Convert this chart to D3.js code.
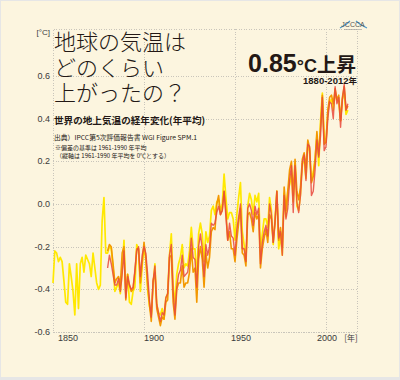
<!DOCTYPE html>
<html><head><meta charset="utf-8">
<script src="https://cdn.jsdelivr.net/npm/d3@7"></script>
<style>
html,body{margin:0;padding:0;background:#e6e6e6;}
svg{display:block;}
</style></head>
<body>
<svg id="c" width="400" height="380"></svg>
<script>
// ---- data (anomaly vs 1961-1990 mean, °C) ----
const yearsHad = d3.range(1850, 2013);
const hadcrut = [
-0.37,-0.22,-0.23,-0.27,-0.25,-0.27,-0.36,-0.46,-0.47,-0.28,
-0.34,-0.41,-0.52,-0.28,-0.49,-0.28,-0.25,-0.32,-0.24,-0.26,
-0.28,-0.34,-0.23,-0.30,-0.37,-0.40,-0.38,-0.08,0.03,-0.23,
-0.23,-0.20,-0.21,-0.30,-0.41,-0.39,-0.37,-0.42,-0.31,-0.17,
-0.42,-0.33,-0.46,-0.47,-0.41,-0.39,-0.19,-0.21,-0.41,-0.29,
-0.20,-0.26,-0.40,-0.48,-0.52,-0.38,-0.28,-0.47,-0.51,-0.52,
-0.49,-0.54,-0.44,-0.42,-0.24,-0.14,-0.38,-0.47,-0.33,-0.28,
-0.25,-0.19,-0.30,-0.28,-0.29,-0.22,-0.11,-0.21,-0.21,-0.35,
-0.14,-0.09,-0.14,-0.27,-0.13,-0.18,-0.15,-0.03,-0.01,-0.05,
0.01,0.02,-0.03,0.00,0.14,0.03,-0.07,-0.04,-0.04,-0.07,
-0.17,-0.05,0.03,0.10,-0.13,-0.19,-0.27,-0.01,0.05,0.02,
-0.05,0.04,0.01,0.05,-0.22,-0.14,-0.07,-0.07,-0.11,0.03,
-0.03,-0.19,-0.07,0.06,-0.21,-0.15,-0.24,0.05,-0.06,0.06,
0.09,0.14,0.01,0.19,-0.01,-0.03,0.05,0.19,0.20,0.12,
0.27,0.25,0.11,0.15,0.21,0.32,0.18,0.39,0.52,0.31,
0.29,0.43,0.48,0.49,0.44,0.52,0.49,0.48,0.39,0.49,
0.53,0.42,0.44
];
const yearsUS = d3.range(1880, 2013);
const mlost = [
-0.22,-0.19,-0.20,-0.28,-0.37,-0.35,-0.34,-0.38,-0.23,-0.20,
-0.45,-0.33,-0.38,-0.41,-0.40,-0.32,-0.21,-0.21,-0.37,-0.27,
-0.18,-0.25,-0.38,-0.47,-0.55,-0.36,-0.32,-0.49,-0.53,-0.57,
-0.53,-0.54,-0.46,-0.45,-0.25,-0.24,-0.46,-0.54,-0.40,-0.37,
-0.37,-0.29,-0.39,-0.37,-0.37,-0.32,-0.21,-0.32,-0.30,-0.46,
-0.26,-0.20,-0.26,-0.39,-0.23,-0.30,-0.25,-0.13,-0.11,-0.12,
0.00,0.04,-0.05,-0.03,0.06,-0.03,-0.17,-0.13,-0.21,-0.21,
-0.27,-0.17,-0.09,-0.02,-0.23,-0.24,-0.29,-0.05,-0.04,-0.07,
-0.13,-0.04,-0.07,-0.05,-0.30,-0.21,-0.16,-0.12,-0.18,-0.05,
-0.07,-0.18,-0.09,0.06,-0.17,-0.11,-0.20,0.08,-0.03,0.06,
0.16,0.20,0.04,0.21,0.06,0.02,0.08,0.21,0.24,0.17,
0.30,0.26,0.10,0.13,0.21,0.34,0.23,0.36,0.51,0.28,
0.29,0.44,0.50,0.51,0.47,0.54,0.49,0.51,0.39,0.50,
0.55,0.44,0.46
];
const giss = [
-0.30,-0.24,-0.28,-0.33,-0.38,-0.38,-0.35,-0.41,-0.33,-0.22,
-0.44,-0.34,-0.38,-0.40,-0.39,-0.31,-0.22,-0.20,-0.34,-0.24,
-0.20,-0.23,-0.33,-0.45,-0.53,-0.36,-0.29,-0.47,-0.51,-0.55,
-0.51,-0.52,-0.44,-0.42,-0.24,-0.19,-0.41,-0.52,-0.39,-0.33,
-0.31,-0.24,-0.34,-0.33,-0.32,-0.26,-0.16,-0.25,-0.26,-0.39,
-0.20,-0.14,-0.21,-0.34,-0.19,-0.24,-0.20,-0.09,-0.10,-0.09,
-0.04,-0.01,-0.05,-0.03,0.06,-0.06,-0.17,-0.09,-0.15,-0.16,
-0.24,-0.12,-0.06,0.00,-0.21,-0.21,-0.27,-0.02,0.00,-0.03,
-0.10,-0.01,-0.05,-0.02,-0.28,-0.18,-0.13,-0.10,-0.15,0.00,
-0.05,-0.18,-0.08,0.06,-0.16,-0.13,-0.24,0.04,-0.07,-0.02,
0.11,0.18,-0.04,0.18,0.01,-0.04,0.04,0.19,0.23,0.11,
0.28,0.27,0.04,0.06,0.16,0.30,0.22,0.32,0.50,0.25,
0.27,0.40,0.48,0.47,0.40,0.55,0.47,0.50,0.36,0.49,
0.56,0.44,0.47
];
const yTicks = [0.6, 0.4, 0.2, 0.0, -0.2, -0.4, -0.6];
const yTickLabels = ["0.6", "0.4", "0.2", "0.0", "-0.2", "-0.4", "-0.6"];
const xTicks = [1850, 1900, 1950, 2000];
const xTickLabels = ["1850", "1900", "1950", "2000"];

// ---- layout ----
const svg = d3.select("#c");
const W = 400, H = 380;
const plotL = 53, plotR = 357, plotT = 29, plotB = 332;
const x = d3.scaleLinear().domain([1850, 2000]).range([plotL, 326]);
const y = d3.scaleLinear().domain([-0.6, 0.6]).range([plotB, 76]);
const ink = "#231815";
const jp = "'Noto Sans CJK JP','Noto Sans',sans-serif";
const num = "'Liberation Sans Narrow','Liberation Sans',Arial,sans-serif";

svg.append("rect").attr("x", 1).attr("y", 1).attr("width", W - 2).attr("height", 376)
  .attr("fill", "#fcf5df");

// grid
const grid = svg.append("g").attr("stroke", "#c9c5bb").attr("stroke-width", 1)
  .attr("stroke-dasharray", "1,1.5").attr("fill", "none").attr("shape-rendering", "crispEdges");
grid.selectAll("line.h").data(yTicks).join("line").attr("class", "h")
  .attr("x1", plotL).attr("x2", plotR).attr("y1", d => Math.round(y(d)) + 0.5).attr("y2", d => Math.round(y(d)) + 0.5);
grid.selectAll("line.v").data(xTicks.slice(1)).join("line").attr("class", "v")
  .attr("y1", plotT).attr("y2", plotB).attr("x1", d => Math.round(x(d)) + 0.5).attr("x2", d => Math.round(x(d)) + 0.5);
grid.append("rect").attr("x", plotL + 0.5).attr("y", plotT + 0.5)
  .attr("width", plotR - plotL).attr("height", plotB - plotT);

// y tick labels
svg.append("g").selectAll("text").data(yTicks).join("text")
  .attr("x", 50).attr("y", d => y(d)).attr("dy", "0.35em")
  .attr("text-anchor", "end").attr("font-family", num).attr("font-size", 9)
  .attr("fill", "#3a3a3a").text((d, i) => yTickLabels[i]);
svg.append("text").attr("x", 50).attr("y", 35).attr("text-anchor", "end")
  .attr("font-family", num).attr("font-size", 8).attr("fill", "#3a3a3a").text("[°C]");

// x tick labels
const xOff = [15, 10, 6, 1];
svg.append("g").selectAll("text").data(xTicks).join("text")
  .attr("x", (d, i) => x(d) + xOff[i]).attr("y", 341)
  .attr("text-anchor", "middle").attr("font-family", num).attr("font-size", 9)
  .attr("fill", "#3a3a3a").text((d, i) => xTickLabels[i]);
svg.append("text").attr("x", 351).attr("y", 341).attr("text-anchor", "middle")
  .attr("font-family", jp).attr("font-size", 8).attr("fill", "#3a3a3a").text("[年]");

// lines
const line = d3.line().x(d => x(d[0])).y(d => y(d[1]));
const series = [
  { yrs: yearsHad, vals: hadcrut, color: "#ffe800", w: 1.7 },
  { yrs: yearsUS, vals: mlost, color: "#f39800", w: 1.6 },
  { yrs: yearsUS, vals: giss, color: "#e9483c", w: 1.4, op: 0.85 }
];
series.forEach(s => {
  svg.append("path").datum(s.yrs.map((yr, i) => [yr, s.vals[i]]))
    .attr("d", line).attr("fill", "none").attr("stroke", s.color)
    .attr("stroke-width", s.w).attr("stroke-opacity", s.op || 1)
    .attr("stroke-linejoin", "round");
});

// titles
const title = svg.append("text").attr("font-family", jp).attr("fill", ink)
  .attr("font-size", 22).attr("font-weight", 300);
title.append("tspan").attr("x", 54).attr("y", 50).text("地球の気温は");
title.append("tspan").attr("x", 54).attr("y", 76).text("どのくらい");
title.append("tspan").attr("x", 54).attr("y", 101).text("上がったの？");

svg.append("text").attr("x", 54).attr("y", 123.5).attr("font-family", jp)
  .attr("font-size", 9.6).attr("font-weight", "bold").attr("fill", ink)
  .text("世界の地上気温の経年変化(年平均)");
svg.append("text").attr("x", 54).attr("y", 140).attr("font-family", jp)
  .attr("font-size", 6.8).attr("fill", ink)
  .text("出典）IPCC第5次評価報告書 WGI Figure SPM.1");
svg.append("text").attr("x", 55).attr("y", 150).attr("font-family", jp)
  .attr("font-size", 6).attr("fill", ink)
  .text("※偏差の基準は 1961-1990 年平均");
svg.append("text").attr("x", 56).attr("y", 157.8).attr("font-family", jp)
  .attr("font-size", 6).attr("fill", ink)
  .text("（縦軸は 1961-1990 年平均を 0℃とする）");

// big value
const big = svg.append("text").attr("x", 356).attr("y", 72).attr("text-anchor", "end")
  .attr("fill", ink).attr("font-weight", "bold");
big.append("tspan").attr("font-family", "'Liberation Sans',Arial,sans-serif").attr("font-size", 25).text("0.85");
big.append("tspan").attr("font-family", "'Liberation Sans',Arial,sans-serif").attr("font-size", 18).text("°C");
big.append("tspan").attr("font-family", jp).attr("font-size", 19.5).text("上昇");

const sub = svg.append("text").attr("x", 357).attr("y", 84).attr("text-anchor", "end")
  .attr("fill", ink).attr("font-weight", "bold");
sub.append("tspan").attr("font-family", num).attr("font-size", 9.5).text("1880-2012");
sub.append("tspan").attr("font-family", jp).attr("font-size", 8.5).text("年");

// logo
const logo = svg.append("g");
logo.append("path").attr("d", "M340,28 Q346,25 350,21 M356,21 Q360,25 367,28")
  .attr("fill", "none").attr("stroke", "#4a9bd0").attr("stroke-width", 1.2);
logo.append("text").attr("x", 353).attr("y", 27).attr("text-anchor", "middle")
  .attr("font-family", num).attr("font-size", 7).attr("fill", "#555").text("JCCCA");
logo.append("line").attr("x1", 344).attr("x2", 362).attr("y1", 29.5).attr("y2", 29.5)
  .attr("stroke", "#999").attr("stroke-width", 0.6);
</script>
</body></html>
